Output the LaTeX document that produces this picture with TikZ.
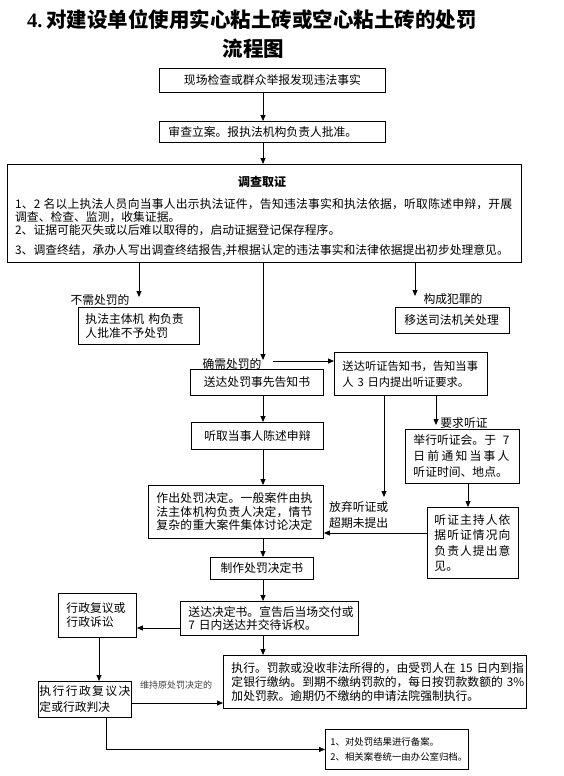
\documentclass[tikz,border=0pt]{standalone}
\usepackage{fontspec}
\usetikzlibrary{arrows.meta,calc}
\newfontfamily\cjk{Noto Sans CJK SC}
\newfontfamily\latinserif{Liberation Serif}
\newcommand\bodyf{\cjk\fontsize{11.8}{13.5}\selectfont}
\ExplSyntaxOn
\NewDocumentCommand\spreadline{mm}{\makebox[#1][s]{\tl_map_inline:nn {#2}{##1\hfil}\unskip}}
\ExplSyntaxOff
\begin{document}
\begin{tikzpicture}[x=1pt,y=-1pt,
  bx/.style={draw,line width=0.9pt,anchor=north west,inner ysep=0pt,align=left,font=\bodyf},
  lab/.style={inner sep=0pt,font=\bodyf,align=left},
  arr/.style={line width=0.8pt,-{Triangle[length=6pt,width=5pt]}}]
\fill[white] (0,0) rectangle (563,776);
\useasboundingbox (0,0) rectangle (563,776);

% title
\node[inner sep=0pt,font=\cjk\bfseries\fontsize{20.5}{24}\selectfont] (title1) at (252,20)
  {{\latinserif\bfseries 4.}\hspace{4pt}对建设单位使用实心粘土砖或空心粘土砖的处罚};
\node[inner sep=0pt,font=\cjk\bfseries\fontsize{20.5}{24}\selectfont] (title2) at (253.5,49) {流程图};

% column coordinates
\coordinate (cx) at (263,0);
\coordinate (eL) at (139,297);
\coordinate (eR) at (415,296);
\coordinate (hs) at (273,361);
\coordinate (eW) at (384,497);
\coordinate (c436) at (436,0);
\coordinate (c468) at (468,0);
\coordinate (y533) at (0,533);
\coordinate (y628) at (0,628);
\coordinate (c99) at (99,0);
\coordinate (y703) at (0,703);
\coordinate (c106) at (106,0);

% boxes
\node[bx,minimum width=226pt,minimum height=24pt,text width=216pt,inner xsep=5pt,align=center] (b1) at (159,68) {\mbox{现场检查或群众举报发现违法事实}};
\node[bx,minimum width=226pt,minimum height=21pt,text width=208pt,inner xsep=9pt] (b2) at (159,121) {\mbox{审查立案。报执法机构负责人批准。}};
\node[bx,minimum width=514pt,minimum height=98pt,text width=500pt,inner xsep=7pt] (b3) at (7,164) {};
\node[anchor=base,inner sep=0pt,font=\cjk\bfseries\fontsize{12}{14}\selectfont] (t3) at (262,186) {调查取证};
\node[anchor=base west,inner sep=0pt,font=\bodyf] (l31) at (15,208.5) {\spreadline{497pt}{1、2~名以上执法人员向当事人出示执法证件，告知违法事实和执法依据，听取陈述申辩，开展}};
\node[anchor=base west,inner sep=0pt,font=\bodyf] (l32) at (15,221) {\mbox{调查、检查、监测，收集证据。}};
\node[anchor=base west,inner sep=0pt,font=\bodyf] (l33) at (15,234.5) {\mbox{2、证据可能灭失或以后难以取得的，启动证据登记保存程序。}};
\node[anchor=base west,inner sep=0pt,font=\bodyf] (l34) at (15,254.5) {\mbox{3、调查终结，承办人写出调查终结报告,并根据认定的违法事实和法律依据提出初步处理意见。}};

\node[bx,minimum width=121pt,minimum height=37pt,text width=107pt,inner xsep=7pt] (bL) at (78,307) {\mbox{执法主体机 构负责}\\\mbox{人批准不予处罚}};
\node[bx,minimum width=114pt,minimum height=26pt,text width=96pt,inner xsep=9pt] (bR) at (395,307) {\mbox{移送司法机关处理}};
\node[bx,minimum width=133pt,minimum height=26pt,text width=123pt,inner xsep=5pt,align=center] (bN) at (190,369) {\mbox{送达处罚事先告知书}};
\node[bx,minimum width=153pt,minimum height=43pt,text width=137pt,inner xsep=8pt,font=\cjk\fontsize{11.3}{16}\selectfont] (bH) at (334,352) {\mbox{送达听证告知书，告知当事}\\\mbox{人 3 日内提出听证要求。}};
\node[bx,minimum width=132pt,minimum height=27pt,text width=122pt,inner xsep=5pt,align=center] (bL2) at (191,422) {\mbox{听取当事人陈述申辩}};
\node[bx,minimum width=175pt,minimum height=53pt,text width=159pt,inner xsep=8pt] (bD) at (148,485) {\spreadline{156pt}{作出处罚决定。一般案件由执}\\\spreadline{156pt}{法主体机构负责人决定，情节}\\\spreadline{156pt}{复杂的重大案件集体讨论决定}};
\node[bx,minimum width=114pt,minimum height=54pt,text width=98pt,inner xsep=8pt,font=\cjk\fontsize{11.8}{16}\selectfont] (bHr) at (405,429)
  {\makebox[96pt][s]{举行听证会。于\hfil 7}\\\spreadline{96pt}{日前通知当事人}\\\mbox{听证时间、地点。}};
\node[bx,minimum width=91pt,minimum height=71pt,text width=77pt,inner xsep=7pt,font=\cjk\fontsize{11.8}{15.3}\selectfont] (bHh) at (427,507)
  {\spreadline{76pt}{听证主持人依}\\\spreadline{76pt}{据听证情况向}\\\spreadline{76pt}{负责人提出意}\\\mbox{见。}};
\node[bx,minimum width=103pt,minimum height=22pt,text width=93pt,inner xsep=5pt,align=center] (bM) at (210,557) {\mbox{制作处罚决定书}};
\node[bx,minimum width=178pt,minimum height=34pt,text width=162pt,inner xsep=8pt,font=\cjk\fontsize{11.8}{12.5}\selectfont] (bS) at (180,601) {\mbox{送达决定书。宣告后当场交付或}\\\mbox{7 日内送达并交待诉权。}};
\node[bx,minimum width=78pt,minimum height=44pt,text width=62pt,inner xsep=8pt,font=\cjk\fontsize{11.8}{14}\selectfont] (bA) at (58,593) {\mbox{行政复议或}\\\mbox{行政诉讼}};
\node[bx,minimum width=93pt,minimum height=36pt,text width=91pt,inner xsep=1pt,font=\cjk\fontsize{11.8}{16}\selectfont] (bJ) at (38,681)
  {\spreadline{91pt}{执行行政复议决}\\\mbox{定或行政判决}};
\node[bx,minimum width=303pt,minimum height=53pt,text width=287pt,inner xsep=8pt,font=\cjk\fontsize{11.8}{14}\selectfont] (bE) at (223,655)
  {\mbox{执行。罚款或没收非法所得的，由受罚人在 15 日内到指}\\\mbox{定银行缴纳。到期不缴纳罚款的，每日按罚款数额的 3\%}\\\mbox{加处罚款。逾期仍不缴纳的申请法院强制执行。}};
\node[bx,minimum width=143pt,minimum height=40pt,text width=133pt,inner xsep=5pt,font=\cjk\fontsize{9.4}{15}\selectfont] (bF) at (325,729) {\mbox{1、对处罚结果进行备案。}\\\mbox{2、相关案卷统一由办公室归档。}};

% labels
\node[lab] (n1) at (100,300) {不需处罚的};
\node[lab] (n2) at (453,299) {构成犯罪的};
\node[lab] (n3) at (232,364) {确需处罚的};
\node[lab] (n4) at (464,423) {要求听证};
\node[lab,anchor=west,font=\cjk\fontsize{11.8}{16}\selectfont] (n5) at (329,515) {\mbox{放弃听证或}\\\mbox{超期未提出}};
\node[lab,font=\cjk\fontsize{9}{10}\selectfont,text=black!75] (n6) at (176,685) {维持原处罚决定的};

% connectors
\draw[arr] (b1.south -| cx) -- (b2.north -| cx);
\draw[arr] (b2.south -| cx) -- (b3.north -| cx);
\draw[arr] (b3.south -| eL) -- (eL);
\draw[arr] (b3.south -| eR) -- (eR);
\draw[arr,shorten >=9pt] (b3.south -| cx) -- (bN.north -| cx);
\draw[arr] (hs) -- (hs -| bH.west);
\draw[arr] (bN.south -| cx) -- (bL2.north -| cx);
\draw[arr] (bL2.south -| cx) -- (bD.north -| cx);
\draw[arr] (bH.south -| eW) -- (eW);
\draw[arr,shorten >=4pt] (bH.south -| c436) -- (bHr.north -| c436);
\draw[arr] (bHr.south -| c468) -- (bHh.north -| c468);
\draw[arr] (bHh.west |- y533) -- (bD.east |- y533);
\draw[arr] (bD.south -| cx) -- (bM.north -| cx);
\draw[arr] (bM.south -| cx) -- (bS.north -| cx);
\draw[arr] (bS.west |- y628) -- (bA.east |- y628);
\draw[arr] (bS.south -| cx) -- (bE.north -| cx);
\draw[arr] (bA.south -| c99) -- (bJ.north -| c99);
\draw[arr] (bJ.east |- y703) -- (bE.west |- y703);
\draw[arr] (bJ.south -| c106) |- (bF.west);
\end{tikzpicture}
\end{document}
